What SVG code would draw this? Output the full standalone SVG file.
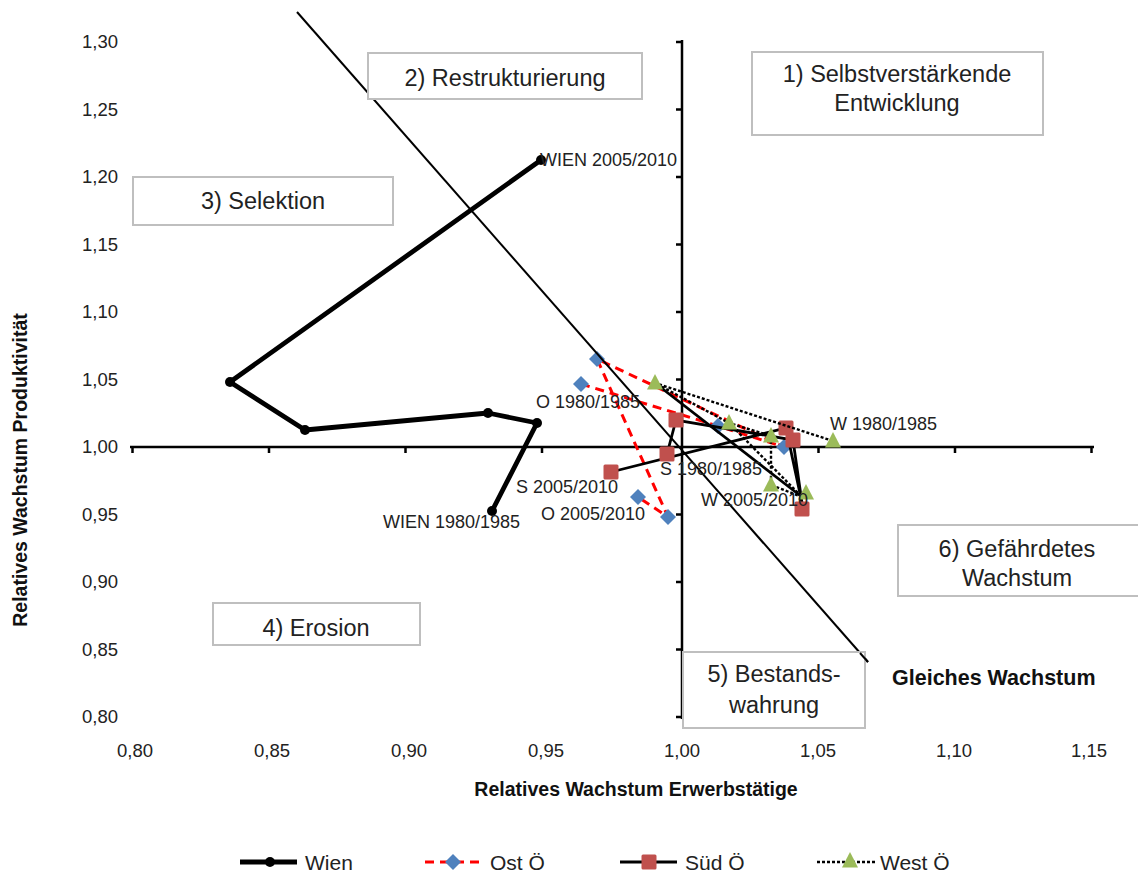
<svg xmlns="http://www.w3.org/2000/svg" width="1138" height="872" viewBox="0 0 1138 872">
<style>
.tick{font-family:"Liberation Sans",Arial,sans-serif;font-size:18.5px;fill:#222}
.lbl{font-family:"Liberation Sans",Arial,sans-serif;font-size:18px;fill:#222}
.box rect{fill:#fff;stroke:#bfbfbf;stroke-width:2}
.box text{font-family:"Liberation Sans",Arial,sans-serif;font-size:23.5px;fill:#222;text-anchor:middle}
.title{font-family:"Liberation Sans",Arial,sans-serif;font-size:19.5px;font-weight:bold;fill:#111;text-anchor:middle}
.leg{font-family:"Liberation Sans",Arial,sans-serif;font-size:21px;fill:#222}
.axis{stroke:#000;stroke-width:2.5;fill:none}
.wien{stroke:#000;stroke-width:4.8;fill:none;stroke-linejoin:round}
.ost{stroke:#ff0000;stroke-width:3;fill:none;stroke-dasharray:9,6}
.sued{stroke:#000;stroke-width:2.8;fill:none}
.west{stroke:#000;stroke-width:2.4;fill:none;stroke-dasharray:3,2}
.dia{fill:#4f81bd}
.sq{fill:#c0504d}
.tri{fill:#9bbb59}
</style>
<defs>
<path id="d" d="M0,-8 L8,0 L0,8 L-8,0 Z" class="dia"/>
<rect id="s" x="-7.5" y="-7.5" width="15" height="15" rx="1.5" class="sq"/>
<path id="t" d="M0,-9 L8,6.5 L-8,6.5 Z" class="tri"/>
</defs>
<rect width="1138" height="872" fill="#fff"/>

<g id="axes">
<line class="axis" x1="130" y1="447" x2="1094" y2="447"/>
<line class="axis" x1="682" y1="40" x2="682" y2="719"/>
<path class="axis" stroke-width="2" d="M676,42H682M676,109.5H682M676,177H682M676,244.5H682M676,312H682M676,379.5H682M676,514.5H682M676,582H682M676,649.5H682M676,717H682"/>
<path class="axis" stroke-width="2" d="M132.5,447V453M269,447V453M405.5,447V453M542,447V453M818.5,447V453M955,447V453M1091.5,447V453"/>
</g>

<g id="ylabels" class="tick" text-anchor="end">
<text x="118" y="48">1,30</text>
<text x="118" y="116">1,25</text>
<text x="118" y="183">1,20</text>
<text x="118" y="251">1,15</text>
<text x="118" y="318">1,10</text>
<text x="118" y="386">1,05</text>
<text x="118" y="453">1,00</text>
<text x="118" y="521">0,95</text>
<text x="118" y="588">0,90</text>
<text x="118" y="656">0,85</text>
<text x="118" y="723">0,80</text>
</g>
<g id="xlabels" class="tick" text-anchor="middle">
<text x="135" y="757">0,80</text>
<text x="272" y="757">0,85</text>
<text x="409" y="757">0,90</text>
<text x="546" y="757">0,95</text>
<text x="682" y="757">1,00</text>
<text x="818" y="757">1,05</text>
<text x="954" y="757">1,10</text>
<text x="1089" y="757">1,15</text>
</g>

<text class="title" x="636" y="796">Relatives Wachstum Erwerbstätige</text>
<text class="title" transform="translate(27,470) rotate(-90)">Relatives Wachstum Produktivität</text>

<g id="connectors">
<g id="series-wien">
<polyline class="wien" points="492,511 537,423 488,413 305,430 230,382 541,160"/>
<g fill="#000">
<circle cx="492" cy="511" r="5"/><circle cx="537" cy="423" r="5"/><circle cx="488" cy="413" r="5"/>
<circle cx="305" cy="430" r="5"/><circle cx="230" cy="382" r="5"/><circle cx="541" cy="160" r="5"/>
</g>
</g>
<g id="series-ost">
<polyline class="ost" points="581,384 718,426 784,447 597,359 668,517 638,497"/>
<use href="#d" x="581" y="384"/><use href="#d" x="718" y="426"/><use href="#d" x="784" y="447"/>
<use href="#d" x="597" y="359"/><use href="#d" x="668" y="517"/><use href="#d" x="638" y="497"/>
</g>
<g id="series-sued">
<polyline class="sued" points="667,454 676,420 793,440 802,503 786,428 611,472"/>
<use href="#s" x="667" y="454"/><use href="#s" x="676" y="420"/><use href="#s" x="793" y="440"/>
<use href="#s" x="802" y="509"/><use href="#s" x="786" y="428"/><use href="#s" x="611" y="472"/>
</g>
<g id="series-west">
<polyline class="west" points="833,441 655,383 729,423 771,436 771,485 802,497 806,493"/>
<line class="sued" stroke-width="2.2" x1="655" y1="383" x2="802" y2="497"/>
<line class="west" x1="729" y1="423" x2="802" y2="497"/>
<use href="#t" x="655" y="383"/><use href="#t" x="729" y="423"/><use href="#t" x="771" y="436"/>
<use href="#t" x="833" y="441"/><use href="#t" x="771" y="485"/><use href="#t" x="806" y="493"/>
</g>
<line id="gleich" x1="297" y1="12" x2="868" y2="662" stroke="#000" stroke-width="2"/>
</g>

<g id="point-labels" class="lbl">
<text x="540" y="166">WIEN 2005/2010</text>
<text x="520" y="528" text-anchor="end">WIEN 1980/1985</text>
<text x="640" y="408" text-anchor="end">O 1980/1985</text>
<text x="645" y="520" text-anchor="end">O 2005/2010</text>
<text x="618" y="493" text-anchor="end">S 2005/2010</text>
<text x="660" y="475">S 1980/1985</text>
<text x="808" y="506" text-anchor="end">W 2005/2010</text>
<text x="830" y="430">W 1980/1985</text>
</g>

<g id="box-restrukturierung" class="box"><rect x="368" y="53" width="274" height="46"/><text x="505" y="86">2) Restrukturierung</text></g>
<g id="box-selbst" class="box"><rect x="752" y="52" width="291" height="83"/><text x="897" y="82">1) Selbstverstärkende</text><text x="897" y="111">Entwicklung</text></g>
<g id="box-selektion" class="box"><rect x="133" y="177" width="260" height="48"/><text x="263" y="209">3) Selektion</text></g>
<g id="box-erosion" class="box"><rect x="213" y="603" width="207" height="42"/><text x="316" y="636">4) Erosion</text></g>
<g id="box-bestand" class="box"><rect x="683" y="652" width="182" height="76"/><text x="774" y="682">5) Bestands-</text><text x="774" y="713">wahrung</text></g>
<g id="box-gefaehrdet" class="box"><rect x="898" y="525" width="245" height="71"/><text x="1017" y="557">6) Gefährdetes</text><text x="1017" y="586">Wachstum</text></g>
<line x1="860" y1="653" x2="868" y2="662" stroke="#000" stroke-width="2"/>

<text id="gleiches" x="892" y="685" font-family="'Liberation Sans',Arial,sans-serif" font-size="21.5" font-weight="bold" fill="#111">Gleiches Wachstum</text>

<g id="legend">
<line x1="240" y1="862" x2="297" y2="862" stroke="#000" stroke-width="4.8"/><circle cx="270" cy="862" r="5"/>
<text class="leg" x="305" y="870">Wien</text>
<line class="ost" x1="425" y1="862" x2="480" y2="862"/><use href="#d" x="453" y="862"/>
<text class="leg" x="490" y="870">Ost Ö</text>
<line class="sued" x1="620" y1="862" x2="677" y2="862" stroke-width="3"/><use href="#s" x="649" y="862"/>
<text class="leg" x="685" y="870">Süd Ö</text>
<line class="west" x1="817" y1="862" x2="877" y2="862"/><use href="#t" x="850" y="861"/>
<text class="leg" x="880" y="870">West Ö</text>
</g>
</svg>
